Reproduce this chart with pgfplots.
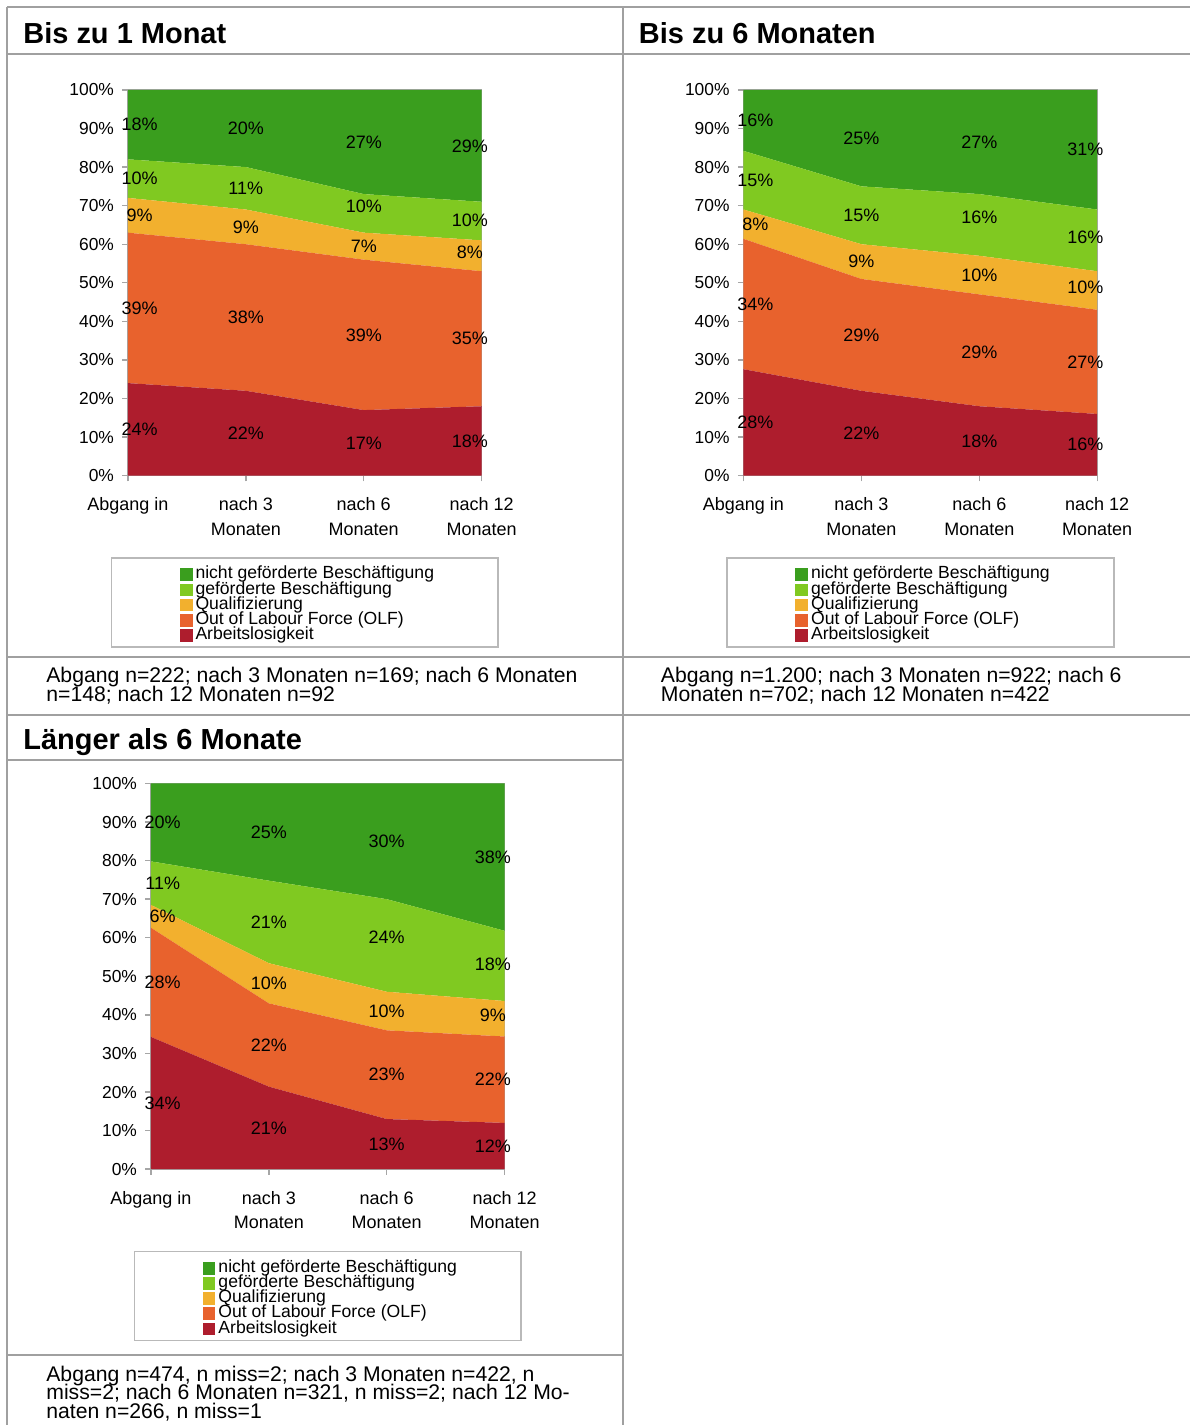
\documentclass[border=0pt]{standalone}
\usepackage{fontspec}
\setmainfont{Liberation Sans}
\usepackage{pgfplots}
\pgfplotsset{compat=1.18}

\definecolor{cNicht}{HTML}{3A9E1E}
\definecolor{cGef}{HTML}{80C921}
\definecolor{cQual}{HTML}{F2B02E}
\definecolor{cOLF}{HTML}{E8622D}
\definecolor{cArb}{HTML}{AE1D2D}
\definecolor{gridgray}{HTML}{A0A0A0}
\definecolor{axgray}{HTML}{A6A6A6}

\pgfplotsset{
  panelbase/.style={
    width=177pt, height=193pt, scale only axis,
    xmin=0, xmax=3, ymin=0, ymax=100,
  },
  panel/.style={
    panelbase,
    stack plots=y,
    xtick={0,1,2,3},
    xticklabels={Abgang in,{nach 3\\Monaten},{nach 6\\Monaten},{nach 12\\Monaten}},
    xticklabel style={font=\fontsize{9}{12.3}\selectfont, align=center, inner sep=0pt, yshift=-8pt},
    ytick={0,10,...,100},
    yticklabels={0\%,10\%,20\%,30\%,40\%,50\%,60\%,70\%,80\%,90\%,100\%},
    yticklabel style={font=\fontsize{8.7}{10}\selectfont, inner sep=0pt, xshift=-4pt},
    tick align=outside, tick pos=left, major tick length=2.8pt,
    axis line style={axgray, line width=0.7pt},
    tick style={axgray, line width=0.7pt},
    reverse legend,
    legend cell align=left,
    legend style={draw=none, fill=none,
      at={(axis description cs:0.147,-0.237)}, anchor=north west,
      inner sep=0pt, outer sep=0pt, row sep=0pt,
      font=\fontsize{8.8}{8.8}\selectfont,
      nodes={inner sep=0pt, text height=5.9pt, text depth=1.7pt},
      /tikz/every odd column/.style={column sep=1.5pt}},
    legend image code/.code={\fill[##1] (0pt,-3.15pt) rectangle (6.3pt,3.15pt);},
  },
  labelaxis/.style={panelbase, hide axis, clip=false},
  lab/.style={draw=none, nodes near coords, point meta=explicit symbolic,
    nodes near coords align=center,
    nodes near coords style={anchor=center, font=\fontsize{9}{10}\selectfont, inner sep=0pt, text=black}},
}

\begin{document}
\begin{tikzpicture}[x=0.5pt, y=-0.5pt]
\path (0,0) rectangle (1191,1426);
\coordinate (p1) at (128,90);
\coordinate (p2) at (744,90);
\coordinate (p3) at (151,784);

% table grid
\begin{scope}[gridgray, line width=1pt]
\draw (7.5,7.5) -- (1191,7.5);
\draw (7.5,7.5) -- (7.5,1426);
\draw (623.5,7.5) -- (623.5,1426);
\draw (7.5,54.5) -- (1191,54.5);
\draw (7.5,657) -- (1191,657);
\draw (7.5,715) -- (1191,715);
\draw (7.5,761) -- (623.5,761);
\draw (7.5,1356) -- (623.5,1356);
\end{scope}

% titles
\begin{scope}[every node/.style={anchor=base west, inner sep=0pt, font=\bfseries\fontsize{14.5}{16}\selectfont}]
\node at (23,43.5) {Bis zu 1 Monat};
\node at (639,43.5) {Bis zu 6 Monaten};
\node at (23,750.5) {Länger als 6 Monate};
\end{scope}

% footnotes
\begin{scope}[every node/.style={anchor=base west, inner sep=0pt, font=\fontsize{10.6}{10}\selectfont}]
\node at (46,683) {Abgang n=222; nach 3 Monaten n=169; nach 6 Monaten};
\node at (46,701.5) {n=148; nach 12 Monaten n=92};
\node at (661,683) {Abgang n=1.200; nach 3 Monaten n=922; nach 6};
\node at (661,701.5) {Monaten n=702; nach 12 Monaten n=422};
\node at (46,1382) {Abgang n=474, n miss=2; nach 3 Monaten n=422, n};
\node at (46,1400.5) {miss=2; nach 6 Monaten n=321, n miss=2; nach 12 Mo-};
\node at (46,1419) {naten n=266, n miss=1};
\end{scope}

% legend frames
\begin{scope}[gray!55, line width=0.8pt]
\draw (111.5,558.5) rectangle (498.5,647.5);
\draw (727.5,558.5) rectangle (1114.5,647.5);
\draw (134.5,1252.5) rectangle (521.5,1341.5);
\end{scope}

% ---------- Panel 1 ----------
\begin{axis}[panel, at={(p1)}, anchor=north west]
\addplot[fill=cArb, draw=none] coordinates {(0,24) (1,22) (2,17) (3,18)} \closedcycle;
\addlegendentry{Arbeitslosigkeit}
\addplot[fill=cOLF, draw=none] coordinates {(0,39) (1,38) (2,39) (3,35)} \closedcycle;
\addlegendentry{Out of Labour Force (OLF)}
\addplot[fill=cQual, draw=none] coordinates {(0,9) (1,9) (2,7) (3,8)} \closedcycle;
\addlegendentry{Qualifizierung}
\addplot[fill=cGef, draw=none] coordinates {(0,10) (1,11) (2,10) (3,10)} \closedcycle;
\addlegendentry{geförderte Beschäftigung}
\addplot[fill=cNicht, draw=none] coordinates {(0,18) (1,20) (2,27) (3,29)} \closedcycle;
\addlegendentry{nicht geförderte Beschäftigung}
\end{axis}
\begin{axis}[labelaxis, at={(p1)}, anchor=north west]
\addplot[lab] coordinates {
(0.1,12) [24\%] (0.1,43.5) [39\%] (0.1,67.5) [9\%] (0.1,77) [10\%] (0.1,91) [18\%]
(1,11) [22\%] (1,41) [38\%] (1,64.5) [9\%] (1,74.5) [11\%] (1,90) [20\%]
(2,8.5) [17\%] (2,36.5) [39\%] (2,59.5) [7\%] (2,69.8) [10\%] (2,86.5) [27\%]
(2.9,9) [18\%] (2.9,35.5) [35\%] (2.9,57.8) [8\%] (2.9,66.3) [10\%] (2.9,85.5) [29\%]
};
\end{axis}

% ---------- Panel 2 ----------
\begin{axis}[panel, at={(p2)}, anchor=north west]
\addplot[fill=cArb, draw=none] coordinates {(0,27.6) (1,22) (2,18) (3,16)} \closedcycle;
\addlegendentry{Arbeitslosigkeit}
\addplot[fill=cOLF, draw=none] coordinates {(0,33.8) (1,29) (2,29) (3,27)} \closedcycle;
\addlegendentry{Out of Labour Force (OLF)}
\addplot[fill=cQual, draw=none] coordinates {(0,7.6) (1,9) (2,10) (3,10)} \closedcycle;
\addlegendentry{Qualifizierung}
\addplot[fill=cGef, draw=none] coordinates {(0,15.2) (1,15) (2,16) (3,16)} \closedcycle;
\addlegendentry{geförderte Beschäftigung}
\addplot[fill=cNicht, draw=none] coordinates {(0,15.8) (1,25) (2,27) (3,31)} \closedcycle;
\addlegendentry{nicht geförderte Beschäftigung}
\end{axis}
\begin{axis}[labelaxis, at={(p2)}, anchor=north west]
\addplot[lab] coordinates {
(0.1,13.8) [28\%] (0.1,44.5) [34\%] (0.1,65.2) [8\%] (0.1,76.6) [15\%] (0.1,92.1) [16\%]
(1,11) [22\%] (1,36.5) [29\%] (1,55.5) [9\%] (1,67.5) [15\%] (1,87.5) [25\%]
(2,9) [18\%] (2,32) [29\%] (2,52) [10\%] (2,67.1) [16\%] (2,86.5) [27\%]
(2.9,8) [16\%] (2.9,29.5) [27\%] (2.9,48.8) [10\%] (2.9,61.8) [16\%] (2.9,84.5) [31\%]
};
\end{axis}

% ---------- Panel 3 ----------
\begin{axis}[panel, at={(p3)}, anchor=north west]
\addplot[fill=cArb, draw=none] coordinates {(0,34.3) (1,21.4) (2,13) (3,12)} \closedcycle;
\addlegendentry{Arbeitslosigkeit}
\addplot[fill=cOLF, draw=none] coordinates {(0,28.3) (1,21.6) (2,23) (3,22.4)} \closedcycle;
\addlegendentry{Out of Labour Force (OLF)}
\addplot[fill=cQual, draw=none] coordinates {(0,5.9) (1,10.4) (2,10) (3,9.2)} \closedcycle;
\addlegendentry{Qualifizierung}
\addplot[fill=cGef, draw=none] coordinates {(0,11.3) (1,21.4) (2,24) (3,18.2)} \closedcycle;
\addlegendentry{geförderte Beschäftigung}
\addplot[fill=cNicht, draw=none] coordinates {(0,20.2) (1,25.2) (2,30) (3,38.2)} \closedcycle;
\addlegendentry{nicht geförderte Beschäftigung}
\end{axis}
\begin{axis}[labelaxis, at={(p3)}, anchor=north west]
\addplot[lab] coordinates {
(0.1,17.15) [34\%] (0.1,48.45) [28\%] (0.1,65.55) [6\%] (0.1,74.15) [11\%] (0.1,89.9) [20\%]
(1,10.7) [21\%] (1,32.2) [22\%] (1,48.2) [10\%] (1,64.1) [21\%] (1,87.4) [25\%]
(2,6.5) [13\%] (2,24.5) [23\%] (2,41) [10\%] (2,60.1) [24\%] (2,85) [30\%]
(2.9,6) [12\%] (2.9,23.2) [22\%] (2.9,39.8) [9\%] (2.9,53.2) [18\%] (2.9,80.9) [38\%]
};
\end{axis}
\end{tikzpicture}
\end{document}
